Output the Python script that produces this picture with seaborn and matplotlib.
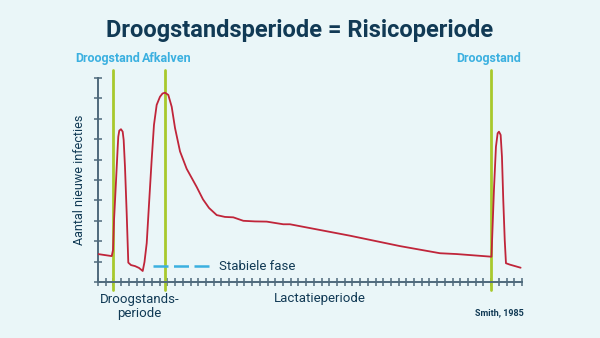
import matplotlib
matplotlib.use("Agg")
import matplotlib.pyplot as plt
from matplotlib.lines import Line2D
import pandas as pd
import seaborn as sns

# Infection curve over the lactation cycle (x in tick units, y in tick units)
cycle_x = [0, 1.78, 1.95, 2.08, 2.33, 2.56, 2.63, 2.76, 2.98, 3.20, 3.33, 3.50, 3.72,
           3.93, 4.28, 4.80, 5.32, 5.80, 6.03, 6.32, 6.61, 6.96, 7.26, 7.61, 8.04,
           8.37, 8.69, 9.12, 9.56, 9.99, 10.64, 11.50, 12.80, 13.62, 14.40, 15.40,
           16.47, 17.55, 18.85, 20.36, 21.88, 24.03, 24.90, 32.68, 39.17, 44.36,
           46.52, 51.04, 51.36, 51.62, 51.84, 52.01, 52.23, 52.40, 52.57, 52.76,
           52.92, 53.44, 54.09, 54.82]
new_infections = [1.37, 1.27, 1.57, 3.04, 4.90, 6.63, 7.12, 7.42, 7.49, 7.37, 6.96,
                  5.65, 3.38, 0.95, 0.83, 0.78, 0.69, 0.54, 0.98, 1.91, 3.77, 5.98,
                  7.70, 8.68, 9.08, 9.24, 9.28, 9.17, 8.59, 7.55, 6.40, 5.55, 4.66,
                  4.05, 3.63, 3.28, 3.19, 3.17, 3.00, 2.97, 2.96, 2.83, 2.83, 2.27,
                  1.76, 1.41, 1.37, 1.24, 4.51, 6.63, 7.29, 7.37, 7.21, 6.14, 4.02,
                  2.06, 0.92, 0.85, 0.78, 0.70]

# Event markers and their labels
event_x = [1.95, 8.69, 51.04]
event_labels = ["Droogstand", "Afkalven", "Droogstand"]
event_label_x = [1.2, 8.95, 50.65]

x_ticks = list(range(0, 56))
y_ticks = list(range(0, 11))

BG = "#eaf6f8"
NAVY = "#113a55"
BLUE = "#3bb0e0"
RED = "#c0253a"
GREEN = "#a8c92c"
AXIS = "#4f6a7c"

sns.set_theme(style="white")
plt.rcParams["font.family"] = ["Roboto", "DejaVu Sans"]

fig = plt.figure(figsize=(6.0, 3.38), dpi=100, facecolor=BG)
W, H = 600, 338
ax = fig.add_axes([98 / W, (H - 282) / H, (522 - 98) / W, (282 - 78) / H])
ax.set_facecolor(BG)

df = pd.DataFrame({"x": cycle_x, "y": new_infections})

for ex in event_x:
    ax.axvline(ex, ymin=-0.04, ymax=1.04, color=GREEN, lw=2.0, clip_on=False, zorder=1)

sns.lineplot(data=df, x="x", y="y", ax=ax, color=RED, lw=1.3, zorder=3,
             sort=False, estimator=None)

ax.set_xlim(0, 55)
ax.set_ylim(0, 10)
ax.set_xticks(x_ticks)
ax.set_yticks(y_ticks)
ax.set_xticklabels([])
ax.set_yticklabels([])
ax.tick_params(axis="both", direction="inout", length=6, width=1.1, color=AXIS,
               bottom=True, left=True)
for side in ["top", "right"]:
    ax.spines[side].set_visible(False)
for side in ["left", "bottom"]:
    ax.spines[side].set_color(AXIS)
    ax.spines[side].set_linewidth(1.4)
ax.set_xlabel("")
ax.set_ylabel("Aantal nieuwe infecties", color=NAVY, fontsize=9, labelpad=2)

# Event labels above the chart
for lx, lab in zip(event_label_x, event_labels):
    ax.text(lx, 10.95, lab, ha="center", va="center", color=BLUE,
            fontsize=9, fontweight="bold", clip_on=False)

# Period labels under the axis
ax.text(5.4, -1.2, "Droogstands-\nperiode", ha="center", va="center", color=NAVY,
        fontsize=9.5, linespacing=1.05, clip_on=False)
ax.text(28.8, -0.83, "Lactatieperiode", ha="center", va="center", color=NAVY,
        fontsize=9.5, clip_on=False)

fig.text(300 / W, 1 - 30 / H, "Droogstandsperiode = Risicoperiode", ha="center",
         va="center", color=NAVY, fontsize=17, fontweight="bold")
fig.text(524 / W, 1 - 313 / H, "Smith, 1985", ha="right", va="center", color=NAVY,
         fontsize=6.5, fontweight="bold")

handle = Line2D([], [], color=BLUE, lw=1.8, ls=(0, (6, 2.2)))
leg = ax.legend([handle], ["Stabiele fase"], loc="center left",
                bbox_to_anchor=(153 / W, 1 - 267 / H), bbox_transform=fig.transFigure,
                frameon=False, fontsize=9.5, handlelength=4.4, handletextpad=0.6,
                borderpad=0, borderaxespad=0)
for t in leg.get_texts():
    t.set_color(NAVY)

fig.savefig("out.png", dpi=100, facecolor=BG)
